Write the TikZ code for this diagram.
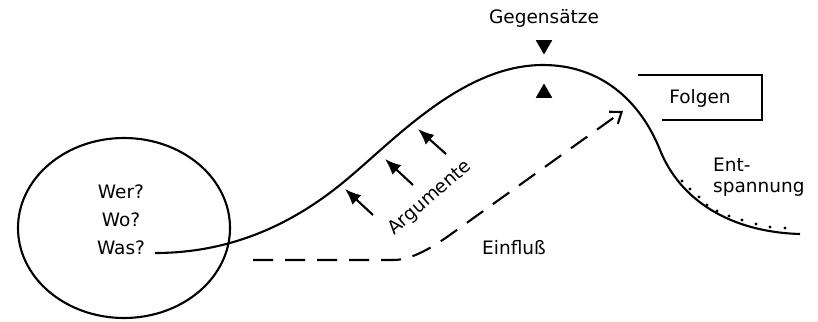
\documentclass[tikz,border=0pt]{standalone}
\usepackage{fontspec}
\setmainfont{DejaVu Sans}
\usetikzlibrary{arrows.meta,shapes.geometric}
\begin{document}
\begin{tikzpicture}[x=1pt,y=-1pt,
  lbl/.style={font=\fontsize{18.5}{20}\selectfont, inner sep=0pt},
  curve/.style={line width=2.1pt},
  argarrow/.style={line width=2.1pt, -{Latex[length=16pt,width=13pt]}},
  tri/.style={fill=black, regular polygon, regular polygon sides=3, minimum size=19pt, inner sep=0pt},
  dot/.style={fill=black, circle, minimum size=3.2pt, inner sep=0pt}]
\clip (0,0) rectangle (818,321);
\fill[white] (0,0) rectangle (818,321);
% circle
\coordinate (circ) at (124,228);
\draw[line width=2.1pt] (circ) ellipse [x radius=106, y radius=90];
\node[lbl] (wer) at (121,192) {Wer?};
\node[lbl] (wo) at (121,220) {Wo?};
\node[lbl] (was) at (121,248) {Was?};
% main curve
\coordinate (c0) at (155,253);
\coordinate (c1) at (340,185);
\coordinate (peak) at (543,65);
\coordinate (c3) at (660,150);
\coordinate (cend) at (800,234);
\draw[curve] (c0) .. controls (230,253) and (290,225) .. (c1)
  .. controls (390,145) and (460,65) .. (peak)
  .. controls (600,65) and (640,100) .. (c3)
  .. controls (680,200) and (730,232) .. (cend);
% Gegensaetze
\node[lbl] (geg) at (544,18) {Gegensätze};
\node[tri, shape border rotate=180] (tdown) at (544,45) {};
\node[tri] (tup) at (544,93) {};
% Folgen box
\node[lbl] (folgen) at (700,98) {Folgen};
\draw[line width=1.5pt] (638,75) -- (762,75) -- (762,120) -- (662,120);
% Entspannung
\node[lbl, anchor=west] (ent) at (713,165) {Ent-};
\node[lbl, anchor=west] (spann) at (713,189) {spannung};
\foreach \p in {(682,181),(690,189),(699,197),(707,205),(717,211),(729,216),(742,220),(756,224),(770,227),(785,228)}
  \node[dot] at \p {};
% Argumente
\coordinate (a1t) at (345,189); \coordinate (a1s) at (373,215);
\coordinate (a2t) at (385,159); \coordinate (a2s) at (413,185);
\coordinate (a3t) at (418,129); \coordinate (a3s) at (446,154);
\draw[argarrow] (a1s) -- (a1t);
\draw[argarrow] (a2s) -- (a2t);
\draw[argarrow] (a3s) -- (a3t);
\node[lbl, rotate=41] (arg) at (430,198) {Argumente};
% Einfluss
\coordinate (e0) at (253,260);
\coordinate (e1) at (393,260);
\coordinate (e2) at (447,237);
\coordinate (e3) at (623,111);
\draw[line width=2.1pt, dash pattern=on 20pt off 12pt, -{Straight Barb[length=10pt,width=15pt]}]
  (e0) -- (e1) .. controls (410,260) and (428,250) .. (e2) -- (e3);
\node[lbl] (einfl) at (514,248) {Einfluß};
\end{tikzpicture}
\end{document}
